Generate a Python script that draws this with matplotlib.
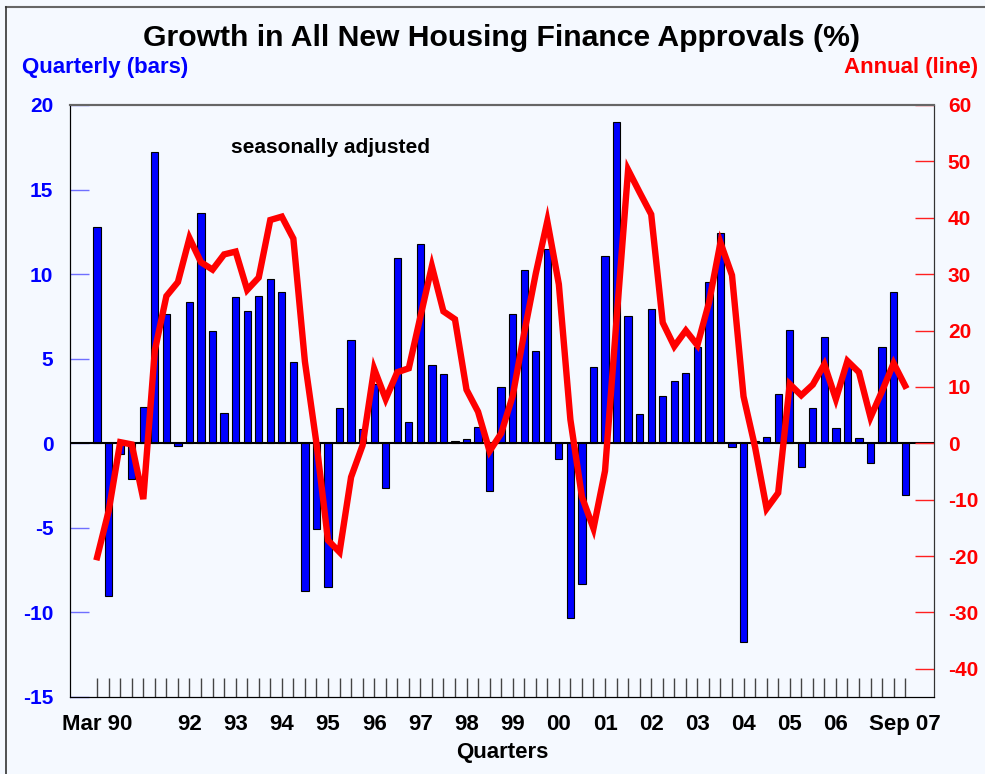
import matplotlib.pyplot as plt
from matplotlib.lines import Line2D
import numpy as np

# quarterly growth (bars, left axis), Mar 90 .. Sep 07
quarterly = [12.8, -9.0, -0.65, -2.1, 2.13, 17.24, 7.62, -0.19,
             8.34, 13.6, 6.64, 1.8, 8.62, 7.83, 8.69, 9.7,
             8.95, 4.81, -8.76, -5.09, -8.48, 2.1, 6.12, 0.86,
             3.5, -2.64, 10.93, 1.26, 11.8, 4.6, 4.07, 0.16,
             0.28, 0.98, -2.8, 3.3, 7.62, 10.26, 5.44, 11.5,
             -0.93, -10.35, -8.34, 4.49, 11.07, 19.02, 7.5, 1.73,
             7.94, 2.8, 3.67, 4.16, 5.68, 9.53, 12.45, -0.2,
             -11.75, 0.15, 0.37, 2.9, 6.68, -1.4, 2.1, 6.31,
             0.89, 4.56, 0.33, -1.17, 5.7, 8.97, -3.08]

# annual growth (line, right axis)
annual = [-20.2, -12.0, 0.2, -0.2, -9.9, 16.5, 26.1, 28.6,
          36.4, 32.1, 30.8, 33.5, 34.0, 27.2, 29.4, 39.6,
          40.2, 36.3, 14.5, 0.0, -17.2, -19.3, -6.0, -0.35,
          13.2, 7.85, 12.6, 13.3, 22.4, 31.4, 23.4, 22.0,
          9.5, 5.6, -1.4, 1.75, 8.4, 19.6, 30.1, 39.4,
          28.2, 4.2, -9.5, -15.1, -4.9, 22.0, 48.5, 44.5,
          40.6, 21.4, 17.2, 20.0, 17.4, 24.9, 35.6, 29.8,
          8.3, -0.7, -11.6, -8.8, 10.5, 8.5, 10.4, 14.0,
          7.85, 14.6, 12.6, 4.6, 9.25, 14.2, 10.2]

year_labels = {0: 'Mar 90', 8: '92', 12: '93', 16: '94', 20: '95', 24: '96',
               28: '97', 32: '98', 36: '99', 40: '00', 44: '01', 48: '02',
               52: '03', 56: '04', 60: '05', 64: '06', 70: 'Sep 07'}

plt.rcParams['font.family'] = ['Liberation Sans', 'DejaVu Sans']
plt.rcParams['font.weight'] = 'bold'
plt.rcParams['axes.unicode_minus'] = False

bg = '#f5f9ff'
fig = plt.figure(figsize=(9.85, 7.74), dpi=100, facecolor=bg)
ax = fig.add_axes([70 / 985, 1 - 697 / 774, 864 / 985, 592 / 774], facecolor=bg)

x = np.arange(len(quarterly))
ax.bar(x, quarterly, width=0.63, color='#0000ff', edgecolor='black', linewidth=0.8, zorder=2)
ax.axhline(0, color='black', linewidth=1.5, zorder=3)
ax.set_xlim(-2.35, 72.5)
ax.set_ylim(-15, 20)
ax.set_yticks(np.arange(-15, 21, 5))
ax.tick_params(axis='y', direction='in', length=14, width=1, color='#6f6fff',
               labelcolor='#0000ff', labelsize=15, pad=12)
for lab in ax.get_yticklabels():
    lab.set_fontweight('bold')

ax.set_xticks(x, [year_labels.get(i, '') for i in x])
ax.tick_params(axis='x', direction='in', length=14, width=1, color='#444444',
               labelsize=16, pad=12)
for lab in ax.get_xticklabels():
    lab.set_fontweight('bold')
ax.set_xlabel('Quarters', fontsize=16, fontweight='bold', labelpad=5)

ax2 = ax.twinx()
ax2.plot(x, annual, color='#ff0000', linewidth=4.6, solid_joinstyle='miter', zorder=4)
ax2.set_ylim(-45, 60)
ax2.set_yticks(np.arange(-40, 61, 10))
ax2.tick_params(axis='y', direction='in', length=14, width=1, color='#ff2020',
                labelcolor='#ff0000', labelsize=15, pad=10)
for lab in ax2.get_yticklabels():
    lab.set_fontweight('bold')

for a in (ax, ax2):
    a.spines['top'].set_color('#666666')
    a.spines['top'].set_linewidth(1.5)
    a.spines['left'].set_color('black')
    a.spines['right'].set_color('#333333')
    a.spines['bottom'].set_color('black')

ax.text(0.301, 0.929, 'seasonally adjusted', transform=ax.transAxes,
        ha='center', va='center', fontsize=15, fontweight='bold')

fig.text(0.509, 0.951, 'Growth in All New Housing Finance Approvals (%)',
         ha='center', va='center', fontsize=21.7, fontweight='bold')
fig.text(0.0223, 0.913, 'Quarterly (bars)', ha='left', va='center',
         fontsize=16, fontweight='bold', color='#0000ff')
fig.text(0.993, 0.913, 'Annual (line)', ha='right', va='center',
         fontsize=16, fontweight='bold', color='#ff0000')

# outer frame lines (top and left)
fig.add_artist(Line2D([6 / 985, 1], [1 - 7 / 774, 1 - 7 / 774], transform=fig.transFigure,
                      color='#666666', linewidth=1.5))
fig.add_artist(Line2D([6 / 985, 6 / 985], [0, 1 - 7 / 774], transform=fig.transFigure,
                      color='#333333', linewidth=1.2))

fig.savefig('out.png', dpi=100, facecolor=bg)
